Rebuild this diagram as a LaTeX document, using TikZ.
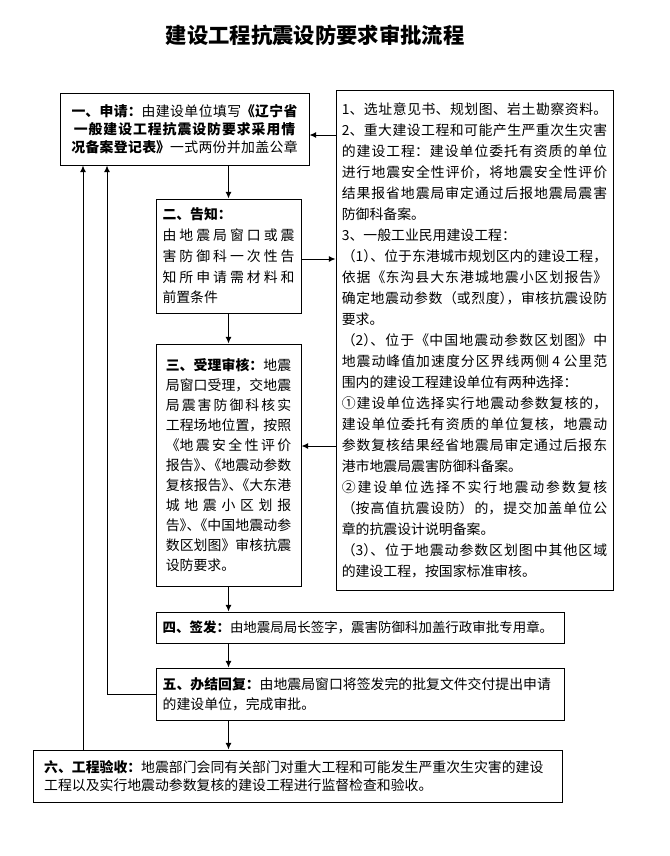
\documentclass[tikz,border=0pt]{standalone}
\usepackage{fontspec}
\setmainfont{Noto Sans CJK SC}
\usetikzlibrary{arrows.meta,calc}
\XeTeXlinebreaklocale "zh"
\XeTeXlinebreakskip=0pt plus 5pt
\setlength{\parindent}{0pt}
\newcommand{\punctkern}{\kern-.5em}
\begin{document}
\begin{tikzpicture}[x=0.75pt,y=-0.75pt,
  box/.style={draw, line width=0.75pt, inner sep=0pt, font=\fontsize{10.4pt}{15.6pt}\selectfont},
  arr/.style={line width=0.75pt, -{Latex[length=5pt,width=4.5pt]}}]
\fill[white] (0,0) rectangle (670,856);
\useasboundingbox (0,0) rectangle (670,856);
\node[font=\fontsize{16pt}{18pt}\selectfont\bfseries] (title) at (315,35) {建设工程抗震设防要求审批流程};
% box 1
\node[box, minimum width=186.75pt, minimum height=54pt, text width=172pt, align=center,
  font=\fontsize{10.4pt}{13.7pt}\selectfont] (b1) at (184.5,129)
 {\textbf{一、申请：}由建设单位填写\textbf{《辽宁省}\\
  \textbf{一般建设工程抗震设防要求采用情}\\
  \textbf{况备案登记表》}一式两份并加盖公章};
% box 2
\node[box, minimum width=108.75pt, minimum height=85.5pt, text width=99pt, align=justify,
  font=\fontsize{10.4pt}{15.6pt}\selectfont] (b2) at (228.5,256)
 {\textbf{二、告知：}\\
  由地震局窗口或震\linebreak
  害防御科一次性告\linebreak
  知所申请需材料和\linebreak
  前置条件};
% box 3
\node[box, minimum width=108.75pt, minimum height=181.5pt, text width=94pt, align=justify,
  font=\fontsize{10.4pt}{15pt}\selectfont] (b3) at (228.5,465)
 {\textbf{三、受理审核：}地震\linebreak
  局窗口受理，交地震\linebreak
  局震害防御科核实\linebreak
  工程场地位置，按照\linebreak
  《地震安全性评价\linebreak
  报告》\punctkern、\punctkern《地震动参数\linebreak
  复核报告》\punctkern、\punctkern《大东港\linebreak
  城地震小区划报\linebreak
  告》\punctkern、\punctkern《中国地震动参\linebreak
  数区划图》审核抗震\linebreak
  设防要求。\par\vspace{7.5pt}};
% right box
\node[box, minimum width=207.75pt, minimum height=375pt, text width=199pt, align=justify,
  font=\fontsize{10.4pt}{15.75pt}\selectfont] (R) at (474.5,340)
 {1、选址意见书、规划图、岩土勘察资料。\linebreak
  2、重大建设工程和可能产生严重次生灾害\linebreak
  的建设工程：建设单位委托有资质的单位\linebreak
  进行地震安全性评价，将地震安全性评价\linebreak
  结果报省地震局审定通过后报地震局震害\linebreak
  防御科备案。\\
  3、一般工业民用建设工程：\\
  （1）\punctkern、位于东港城市规划区内的建设工程，\linebreak
  依据《东沟县大东港城地震小区划报告》\linebreak
  确定地震动参数（或烈度）\punctkern，审核抗震设防\linebreak
  要求。\\
  （2）\punctkern、位于《中国地震动参数区划图》中\linebreak
  地震动峰值加速度分区界线两侧 4 公里范\linebreak
  围内的建设工程建设单位有两种选择：\\
  ①建设单位选择实行地震动参数复核的，\linebreak
  建设单位委托有资质的单位复核，地震动\linebreak
  参数复核结果经省地震局审定通过后报东\linebreak
  港市地震局震害防御科备案。\\
  ②建设单位选择不实行地震动参数复核\linebreak
  （按高值抗震设防）的，提交加盖单位公\linebreak
  章的抗震设计说明备案。\\
  （3）\punctkern、位于地震动参数区划图中其他区域\linebreak
  的建设工程，按国家标准审核。\par\vspace{21pt}};
% box 4
\node[box, minimum width=306pt, minimum height=23.25pt, text width=296pt, align=left,
  font=\fontsize{10.1pt}{15pt}\selectfont] (b4) at (360,627.5)
 {\textbf{四、签发：}由地震局局长签字，震害防御科加盖行政审批专用章。};
% box 5
\node[box, minimum width=306pt, minimum height=39pt, text width=296pt, align=left,
  font=\fontsize{10.4pt}{15pt}\selectfont] (b5) at (360,694)
 {\textbf{五、办结回复：}由地震局窗口将签发完的批复文件交付提出申请\\
  的建设单位，完成审批。};
% box 6
\node[box, minimum width=396.75pt, minimum height=39pt, text width=380pt, align=left,
  font=\fontsize{10.4pt}{13.7pt}\selectfont] (b6) at (297.5,776)
 {\textbf{六、工程验收：}地震部门会同有关部门对重大工程和可能发生严重次生灾害的建设\\
  工程以及实行地震动参数复核的建设工程进行监督检查和验收。};
% main flow
\draw[arr] (b1.south -| b2.north) -- (b2.north);
\draw[arr] (b2.south) -- (b3.north);
\draw[arr] (b3.south) -- (b3.south |- b4.north);
\draw[arr] (b3.south |- b4.south) -- (b3.south |- b5.north);
\draw[arr] (b3.south |- b5.south) -- (b3.south |- b6.north);
% links with right box
\coordinate (p1) at ($(b1.east)+(0,6)$);
\draw[arr] (p1 -| R.west) -- (p1);
\coordinate (p2) at ($(b2.east)+(0,3)$);
\draw[arr] (p2) -- (p2 -| R.west);
\coordinate (p3) at ($(b3.east)+(0,-19)$);
\draw[arr] (p3 -| R.west) -- (p3);
% feedback lines
\coordinate (q1) at ($(b1.south)+(-77.5,0)$);
\draw[arr] (b5.west) -| (q1);
\coordinate (q2) at ($(b1.south)+(-101.5,0)$);
\draw[arr] (q2 |- b6.north) -- (q2);
\end{tikzpicture}
\end{document}
